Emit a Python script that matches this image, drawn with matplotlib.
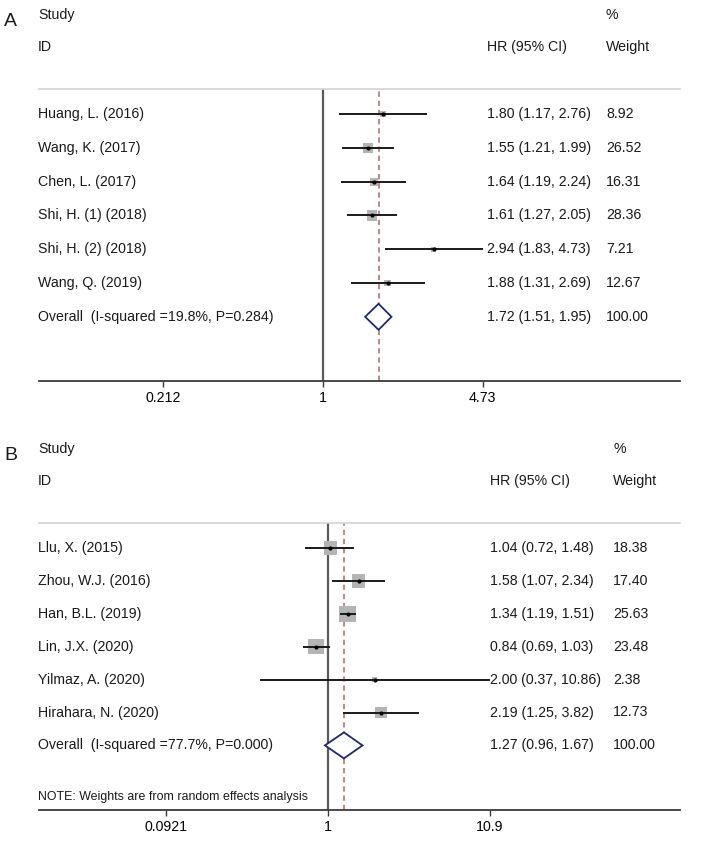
import numpy as np
import matplotlib
matplotlib.use("Agg")
import matplotlib.pyplot as plt
from matplotlib.transforms import blended_transform_factory

# panel A data
a_studies = ["Huang, L. (2016)", "Wang, K. (2017)", "Chen, L. (2017)",
             "Shi, H. (1) (2018)", "Shi, H. (2) (2018)", "Wang, Q. (2019)"]
a_hr = [1.80, 1.55, 1.64, 1.61, 2.94, 1.88]
a_lo = [1.17, 1.21, 1.19, 1.27, 1.83, 1.31]
a_hi = [2.76, 1.99, 2.24, 2.05, 4.73, 2.69]
a_weight = [8.92, 26.52, 16.31, 28.36, 7.21, 12.67]
a_overall = [1.72, 1.51, 1.95]
a_overall_label = "Overall  (I-squared =19.8%, P=0.284)"
a_ticks = [0.212, 1, 4.73]
a_ticklabels = ["0.212", "1", "4.73"]

# panel B data
b_studies = ["Llu, X. (2015)", "Zhou, W.J. (2016)", "Han, B.L. (2019)",
             "Lin, J.X. (2020)", "Yilmaz, A. (2020)", "Hirahara, N. (2020)"]
b_hr = [1.04, 1.58, 1.34, 0.84, 2.00, 2.19]
b_lo = [0.72, 1.07, 1.19, 0.69, 0.37, 1.25]
b_hi = [1.48, 2.34, 1.51, 1.03, 10.86, 3.82]
b_weight = [18.38, 17.40, 25.63, 23.48, 2.38, 12.73]
b_overall = [1.27, 0.96, 1.67]
b_overall_label = "Overall  (I-squared =77.7%, P=0.000)"
b_ticks = [0.0921, 1, 10.9]
b_ticklabels = ["0.0921", "1", "10.9"]

W, H = 708, 842
FONT = "Liberation Sans"
FS = 10.2

fig = plt.figure(figsize=(W / 100, H / 100), dpi=100)


def fx(px):
    return px / W


def fy(py):
    return 1 - py / H


def panel(letter, top_px, axis_px, step, studies, hr, lo, hi, weight, overall,
          overall_label, ticks, ticklabels, one_px, per_ln, hr_x, wt_x, box_k, note=None):
    # layout in pixels
    line_px = top_px + 89          # grey rule under header
    row0_px = line_px + 25
    left_px, right_px = 39, 680

    ax = fig.add_axes([fx(left_px), fy(axis_px), fx(right_px - left_px),
                       (axis_px - line_px) / H])
    ax.set_xscale("log")
    ax.set_xlim(np.exp((left_px - one_px) / per_ln), np.exp((right_px - one_px) / per_ln))
    ax.set_ylim((axis_px - row0_px) / step, -(row0_px - line_px) / step)
    for s in ["top", "right", "left"]:
        ax.spines[s].set_visible(False)
    ax.spines["bottom"].set_color("#3a3a3a")
    ax.spines["bottom"].set_linewidth(1.3)
    ax.axhline(ax.get_ylim()[1], color="#d2d2d2", lw=1.2, clip_on=False)
    ax.set_yticks([])
    ax.minorticks_off()
    ax.set_xticks(ticks)
    ax.set_xticklabels(ticklabels, fontfamily=FONT, fontsize=FS)
    ax.tick_params(axis="x", length=4, width=1, color="#3a3a3a", pad=3)

    n = len(studies)
    rows = np.arange(n)

    ax.axvline(1, color="#5a5a5a", lw=1.6, zorder=1)
    ax.axvline(overall[0], color="#b06468", lw=1.1, ls=(0, (3.5, 2.5)), zorder=1)

    sizes = [(box_k * 0.72) ** 2 * w for w in weight]
    ax.scatter(hr, rows, s=sizes, marker="s", color="#b4b4b4", lw=0, zorder=2)
    ax.hlines(rows, lo, hi, color="#1a1a1a", lw=1.4, zorder=3)
    ax.scatter(hr, rows, s=9, color="black", lw=0, zorder=4)

    orow = n
    h = 13 / step
    ax.fill([overall[1], overall[0], overall[2], overall[0]],
            [orow, orow - h, orow, orow + h],
            facecolor="white", edgecolor="#1f2a66", lw=1.3, zorder=3)

    tr = blended_transform_factory(fig.transFigure, ax.transData)
    kw = dict(transform=tr, va="center", ha="left", fontfamily=FONT,
              fontsize=FS, color="#1a1a1a", clip_on=False)
    for i in range(n):
        ax.text(fx(38), i, studies[i], **kw)
        ax.text(fx(hr_x), i, f"{hr[i]:.2f} ({lo[i]:.2f}, {hi[i]:.2f})", **kw)
        ax.text(fx(wt_x), i, f"{weight[i]:.2f}", **kw)
    ax.text(fx(38), orow, overall_label, **kw)
    ax.text(fx(hr_x), orow, f"{overall[0]:.2f} ({overall[1]:.2f}, {overall[2]:.2f})", **kw)
    ax.text(fx(wt_x), orow, "100.00", **kw)

    # header
    hk = dict(va="center", ha="left", fontfamily=FONT, fontsize=FS, color="#1a1a1a")
    fig.text(fx(38), fy(top_px + 15), "Study", **hk)
    fig.text(fx(38), fy(top_px + 47), "ID", **hk)
    fig.text(fx(hr_x), fy(top_px + 47), "HR (95% CI)", **hk)
    fig.text(fx(wt_x), fy(top_px + 15), "%", **hk)
    fig.text(fx(wt_x), fy(top_px + 47), "Weight", **hk)
    fig.text(fx(4), fy(top_px + 21), letter, va="center", ha="left",
             fontfamily=FONT, fontsize=14, color="#1a1a1a")

    if note:
        fig.text(fx(38), fy(axis_px - 13), note, va="center", ha="left",
                 fontfamily=FONT, fontsize=8.9, color="#1a1a1a")
    return ax


panel("A", 0, 381, 33.8, a_studies, a_hr, a_lo, a_hi, a_weight, a_overall,
      a_overall_label, a_ticks, a_ticklabels, one_px=322.7, per_ln=103.0,
      hr_x=487, wt_x=606, box_k=1.94)
panel("B", 434, 810, 32.9, b_studies, b_hr, b_lo, b_hi, b_weight, b_overall,
      b_overall_label, b_ticks, b_ticklabels, one_px=327.7, per_ln=67.9,
      hr_x=490, wt_x=613, box_k=3.2,
      note="NOTE: Weights are from random effects analysis")

fig.savefig("out.png", dpi=100)
